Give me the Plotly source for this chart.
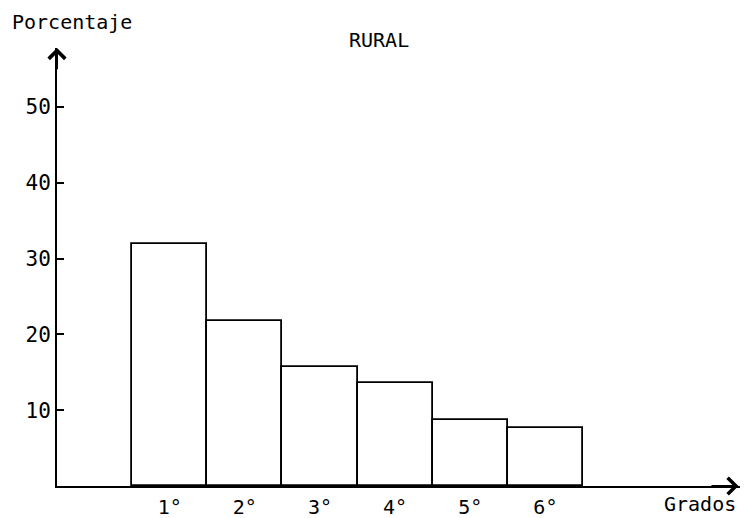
import plotly.graph_objects as go

grados = ["1°", "2°", "3°", "4°", "5°", "6°"]
posiciones = [1.5, 2.5, 3.5, 4.5, 5.5, 6.5]
porcentaje = [32, 21.8, 15.7, 13.6, 8.7, 7.6]
y_ticks = [10, 20, 30, 40, 50]

FONT = "DejaVu Sans Mono"
XMAX = 9.09
YMAX = 57.8

fig = go.Figure()
fig.add_trace(go.Bar(
    x=posiciones, y=porcentaje, width=1,
    marker=dict(color="white", line=dict(color="black", width=1.8)),
    showlegend=False, hoverinfo="skip",
))

fig.update_layout(
    width=746, height=518,
    margin=dict(l=57, r=6, t=48, b=32),
    plot_bgcolor="white", paper_bgcolor="white",
    font=dict(family=FONT, size=19, color="black"),
    bargap=0,
    xaxis=dict(range=[0, XMAX], showline=True, linecolor="black", linewidth=2,
               showgrid=False, zeroline=False, tickvals=posiciones, ticktext=grados,
               ticks="", ticklabelstandoff=2, automargin=False,
               tickfont=dict(size=20, family=FONT)),
    yaxis=dict(range=[0, YMAX], showline=True, linecolor="black", linewidth=2,
               showgrid=False, zeroline=False, tickvals=y_ticks, automargin=False,
               ticks="inside", ticklen=7, tickwidth=2, tickcolor="black",
               tickfont=dict(size=21, family=FONT)),
    annotations=[
        dict(x=0, y=YMAX, ax=0, ay=YMAX - 3, xref="x", yref="y", axref="x", ayref="y",
             showarrow=True, arrowhead=4, arrowsize=1.6, arrowwidth=2, arrowcolor="black", text=""),
        dict(x=XMAX - 0.02, y=0, ax=XMAX - 0.4, ay=0, xref="x", yref="y", axref="x", ayref="y",
             showarrow=True, arrowhead=4, arrowsize=1.6, arrowwidth=2, arrowcolor="black", text=""),
        dict(text="Porcentaje", xref="paper", yref="paper", x=0.022, y=1.0595,
             showarrow=False, xanchor="center", yanchor="middle", font=dict(size=20, family=FONT)),
        dict(text="RURAL", xref="paper", yref="paper", x=0.471, y=1.018,
             showarrow=False, xanchor="center", yanchor="middle", font=dict(size=20, family=FONT)),
        dict(text="Grados", xref="paper", yref="paper", x=0.941, y=-0.04,
             showarrow=False, xanchor="center", yanchor="middle", font=dict(size=20, family=FONT)),
    ],
)

fig.write_html("out.html", config={"displayModeBar": False},
               post_script="document.body.style.margin='0';")
